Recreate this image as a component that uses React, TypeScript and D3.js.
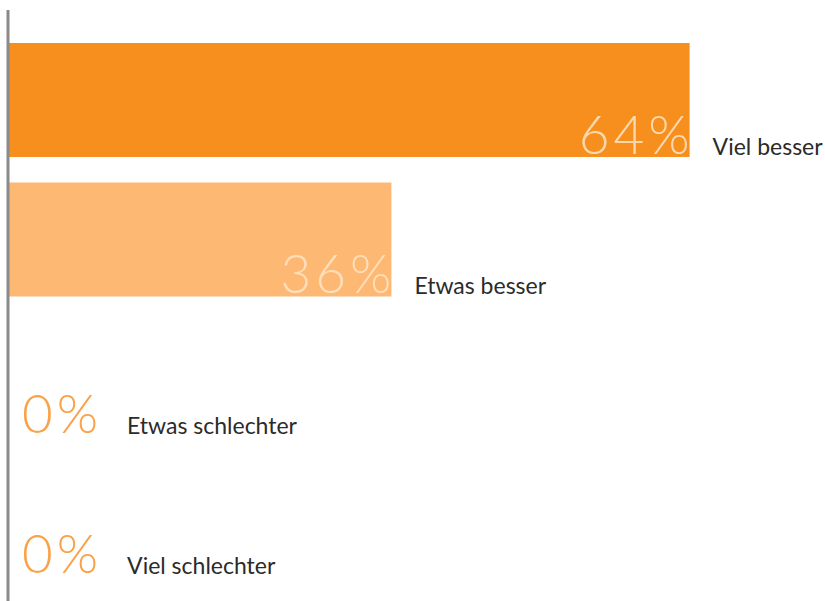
import React, { useEffect, useRef } from 'react'
import * as d3 from 'd3'

// answer categories, top to bottom
const categories = ['Viel besser', 'Etwas besser', 'Etwas schlechter', 'Viel schlechter']
const shares = [64, 36, 0, 0]
const barColors = ['#F68F1E', '#FDB873', '#F9A24A', '#F9A24A']

const W = 825
const H = 601

export default function App() {
  const ref = useRef<SVGSVGElement>(null)

  useEffect(() => {
    const svg = d3.select(ref.current)
    svg.selectAll('*').remove()

    const x = d3.scaleLinear().domain([0, 100]).range([8, 8 + 1065])
    const y = d3.scaleBand<string>()
      .domain(categories)
      .range([43, 575.5])
      .paddingInner(0.183)
      .paddingOuter(0)

    const data = categories.map((c, i) => ({ name: c, value: shares[i], color: barColors[i] }))

    svg.selectAll('.bar')
      .data(data)
      .enter()
      .append('rect')
      .attr('class', 'bar')
      .attr('x', x(0))
      .attr('y', d => y(d.name)!)
      .attr('width', d => x(d.value) - x(0))
      .attr('height', y.bandwidth())
      .attr('fill', d => d.color)

    const groups = svg.selectAll('.lbl')
      .data(data)
      .enter()
      .append('g')
      .attr('class', 'lbl')

    const spacing = 4

    groups.each(function (d) {
      const g = d3.select(this)
      const base = y(d.name)! + y.bandwidth() - 3
      let endX: number
      let gap: number
      if (d.value > 0) {
        g.append('text')
          .attr('x', x(d.value) + spacing)
          .attr('y', base)
          .attr('text-anchor', 'end')
          .style('font-family', 'Lato')
          .style('font-weight', 300)
          .style('font-size', '53px')
          .style('letter-spacing', spacing + 'px')
          .style('fill', '#FFE3C2')
          .style('fill-opacity', 0.88)
          .text(d.value + '%')
        endX = x(d.value)
        gap = 23
      } else {
        const t = g.append('text')
          .attr('x', x(0) + 14)
          .attr('y', base)
          .style('font-family', 'Lato')
          .style('font-weight', 300)
          .style('font-size', '53px')
          .style('letter-spacing', spacing + 'px')
          .style('fill', '#F9A24A')
          .text(d.value + '%')
        endX = x(0) + 14 + (t.node() as SVGTextElement).getComputedTextLength() - spacing
        gap = 29
      }
      g.append('text')
        .attr('x', endX + gap)
        .attr('y', base + 1)
        .style('font-family', 'Lato')
        .style('font-size', '23px')
        .style('fill', '#2b2b2b')
        .text(d.name)
    })

    // vertical axis line
    svg.append('line')
      .attr('x1', x(0))
      .attr('x2', x(0))
      .attr('y1', 10)
      .attr('y2', H)
      .attr('stroke', '#8a8a8a')
      .attr('stroke-width', 3)
  }, [])

  return (
    <div style={{ position: 'absolute', left: 0, top: 0 }}>
      <svg ref={ref} width={W} height={H} style={{ display: 'block', background: '#fff' }} />
    </div>
  )
}
